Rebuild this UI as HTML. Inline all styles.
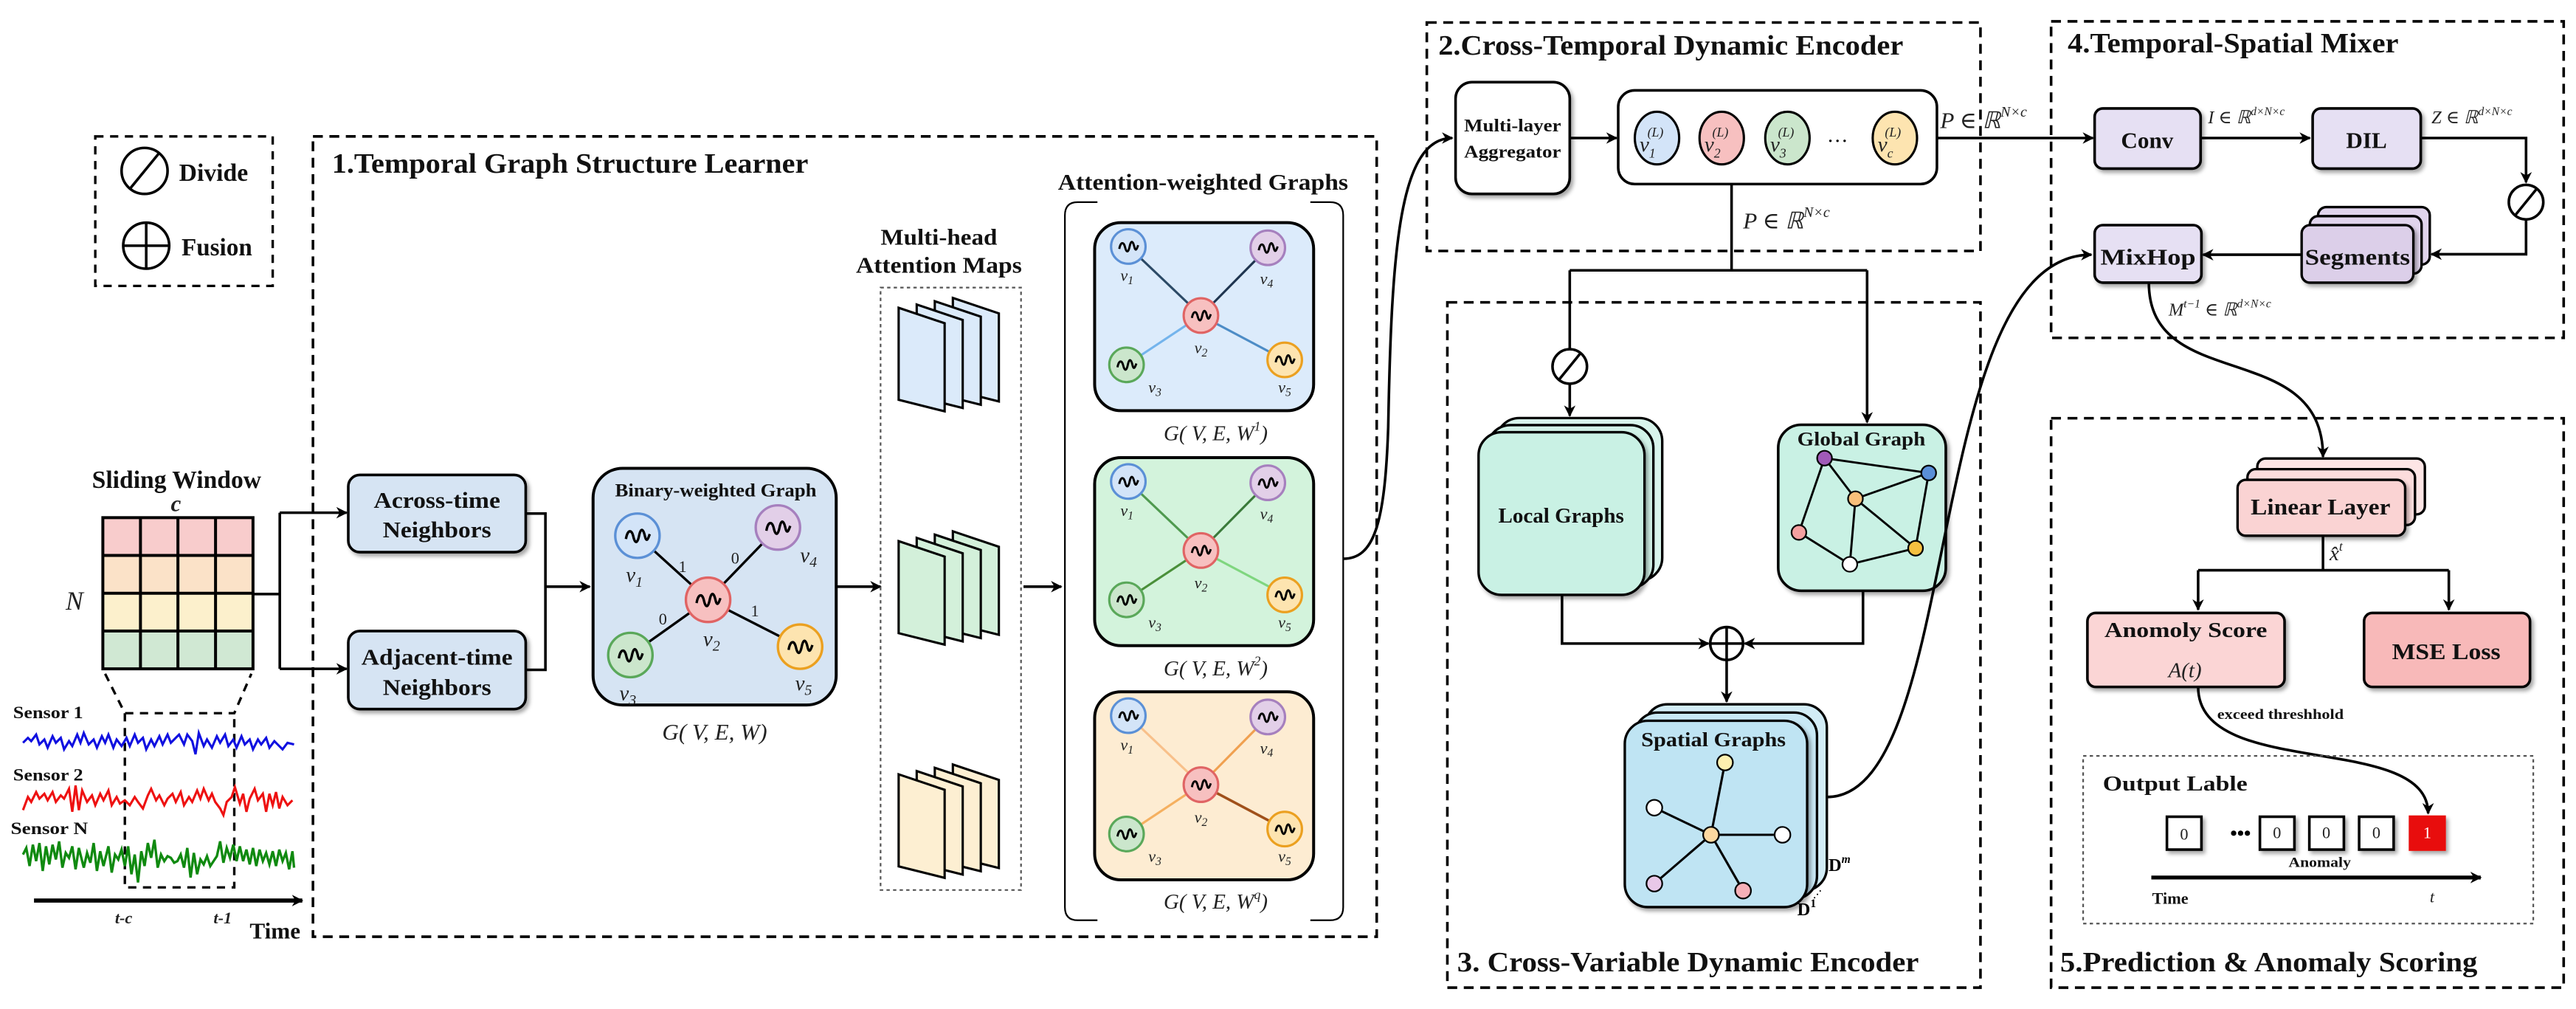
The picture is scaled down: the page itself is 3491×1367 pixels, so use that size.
<!DOCTYPE html>
<html><head><meta charset="utf-8"><style>
html,body{margin:0;padding:0;background:#fff;}
svg{display:block;}
.t{font-family:"Liberation Serif","DejaVu Serif",serif;font-weight:bold;fill:#111;}
.m{font-family:"Liberation Serif","DejaVu Serif",serif;font-style:italic;fill:#222;}
</style></head><body>
<svg width="3491" height="1367" viewBox="0 0 1568 614" preserveAspectRatio="none" xmlns="http://www.w3.org/2000/svg">
<defs>
<marker id="ar" viewBox="0 0 10 10" refX="9" refY="5" markerWidth="7" markerHeight="7" orient="auto" markerUnits="userSpaceOnUse"><path d="M0,0 L10,5 L0,10 L3,5 z" fill="#000"/></marker>
<filter id="sh" x="-20%" y="-20%" width="150%" height="150%"><feDropShadow dx="1.5" dy="1.8" stdDeviation="1.2" flood-opacity="0.35"/></filter>
<g id="w"><path d="M-7,2 C-6,-4 -3.5,-4 -2.5,0.5 S0,5 1,0 S3.5,-4.5 4.5,0 S6.5,2 7.5,-1" fill="none" stroke="#000" stroke-width="1.5"/></g>
<g id="ws"><path d="M-5.5,1.5 C-4.7,-3 -2.8,-3 -2,0.4 S0,4 0.8,0 S2.8,-3.5 3.6,0 S5.2,1.5 6,-0.8" fill="none" stroke="#000" stroke-width="1.3"/></g>
</defs>

<!-- Legend -->
<rect x="58" y="83" width="108" height="91" fill="none" stroke="#000" stroke-width="1.5" stroke-dasharray="5 4"/>
<circle cx="88" cy="104" r="14" fill="#fff" stroke="#000" stroke-width="1.6"/>
<line x1="79" y1="115" x2="97" y2="93" stroke="#000" stroke-width="1.6"/>
<text class="t" x="109" y="110" font-size="15" textLength="42" lengthAdjust="spacingAndGlyphs">Divide</text>
<circle cx="89" cy="149.5" r="14" fill="#fff" stroke="#000" stroke-width="1.6"/>
<line x1="75" y1="149.5" x2="103" y2="149.5" stroke="#000" stroke-width="1.6"/>
<line x1="89" y1="135.5" x2="89" y2="163.5" stroke="#000" stroke-width="1.6"/>
<text class="t" x="110.5" y="155.5" font-size="15" textLength="43" lengthAdjust="spacingAndGlyphs">Fusion</text>

<!-- Box 1 -->
<rect x="190.5" y="83" width="647.5" height="487" fill="none" stroke="#000" stroke-width="1.6" stroke-dasharray="6 4"/>
<text class="t" x="202" y="105" font-size="17" textLength="290" lengthAdjust="spacingAndGlyphs">1.Temporal Graph Structure Learner</text>

<!-- Sliding window -->
<text class="t" x="56" y="297" font-size="15" textLength="103" lengthAdjust="spacingAndGlyphs">Sliding Window</text>
<text class="m" x="104" y="311" font-size="14" font-weight="bold">c</text>
<text class="m" x="40" y="371" font-size="16">N</text>
<rect x="62.6" y="315" width="91.4" height="23" fill="#f8cccc"/>
<rect x="62.6" y="338" width="91.4" height="23" fill="#fbe2c8"/>
<rect x="62.6" y="361" width="91.4" height="23" fill="#fcf0cc"/>
<rect x="62.6" y="384" width="91.4" height="23" fill="#d0e8d3"/>
<g stroke="#000" stroke-width="1.8" fill="none">
<rect x="62.6" y="315" width="91.4" height="92"/>
<line x1="85.5" y1="315" x2="85.5" y2="407"/><line x1="108.3" y1="315" x2="108.3" y2="407"/><line x1="131.2" y1="315" x2="131.2" y2="407"/>
<line x1="62.6" y1="338" x2="154" y2="338"/><line x1="62.6" y1="361" x2="154" y2="361"/><line x1="62.6" y1="384" x2="154" y2="384"/>
</g>
<g stroke="#000" stroke-width="1.5" fill="none" stroke-dasharray="5 4">
<path d="M64,410 L76,434 L142.6,434 L153,410"/>
<path d="M76,434 L76,540 L142.6,540 L142.6,434"/>
</g>
<text class="t" x="8" y="437" font-size="10.5" textLength="42.6" lengthAdjust="spacingAndGlyphs">Sensor 1</text>
<text class="t" x="8" y="475" font-size="10.5" textLength="42.6" lengthAdjust="spacingAndGlyphs">Sensor 2</text>
<text class="t" x="6.5" y="507.5" font-size="10.5" textLength="47" lengthAdjust="spacingAndGlyphs">Sensor N</text>
<polyline fill="none" stroke="#1010e0" stroke-width="1.4" points="14,452 17,449 19,451 22,447 24,453 27,450 29,455 32,448 34,452 37,449 39,456 42,451 44,454 47,447 49,452 51,446 54,453 57,450 59,455 62,448 64,452 66,447 69,455 71,450 74,454 77,449 79,454 82,447 84,452 87,449 89,456 92,450 94,454 97,448 99,453 102,447 104,452 107,449 109,447 112,453 114,447 117,451 119,459 121,446 124,454 126,450 129,455 132,448 134,452 137,447 139,454 142,450 144,455 147,448 149,453 152,450 154,456 157,450 159,453 162,449 164,455 167,451 169,453 172,456 175,452 179,453"/>
<polyline fill="none" stroke="#ee1111" stroke-width="1.4" points="14,493 17,485 19,488 22,482 24,486 27,483 29,487 32,482 34,488 37,484 39,486 42,480 44,494 46,478 48,493 50,481 53,488 56,484 58,490 61,483 63,487 66,481 68,490 71,485 73,489 76,487 79,490 82,485 84,488 87,492 90,484 92,480 95,487 97,484 100,490 102,486 105,483 107,488 110,482 112,490 115,485 117,488 120,481 122,486 124,480 127,487 129,483 131,488 134,492 136,496 138,488 141,485 143,479 146,489 148,483 150,494 152,486 155,480 157,487 160,483 162,494 164,483 166,490 168,482 170,492 172,485 175,490 178,487"/>
<polyline fill="none" stroke="#108a10" stroke-width="1.5" points="14,520 16,516 18,527 20,514 22,524 24,513 26,530 28,515 30,526 32,514 34,523 36,512 38,528 40,519 42,522 44,515 46,529 48,516 51,528 53,519 55,525 57,513 59,530 61,518 63,527 66,515 68,531 70,520 72,523 74,517 76,527 78,515 80,532 82,520 84,537 86,518 88,527 90,513 92,522 94,511 96,528 98,520 100,524 102,521 104,522 106,525 108,524 110,520 112,528 114,516 116,534 118,519 120,532 122,523 124,526 126,521 128,527 130,524 132,521 134,512 136,525 138,516 140,522 142,514 144,524 146,515 148,524 150,517 152,526 154,516 156,527 158,517 160,524 162,519 164,526 166,518 168,527 170,517 172,524 174,519 176,529 178,518 179,528"/>
<line x1="20.7" y1="548" x2="184" y2="548" stroke="#000" stroke-width="2.5" marker-end="url(#ar)"/>
<text class="m" x="70" y="562" font-size="10" font-weight="bold">t-c</text>
<text class="m" x="130" y="562" font-size="10" font-weight="bold">t-1</text>
<text class="t" x="152" y="571" font-size="14">Time</text>

<!-- connectors from grid -->
<g stroke="#000" stroke-width="1.6" fill="none">
<path d="M154,361.5 L170.3,361.5"/>
<path d="M170.3,312 L170.3,407"/>
<path d="M170.3,312 L211,312" marker-end="url(#ar)"/>
<path d="M170.3,407 L211,407" marker-end="url(#ar)"/>
<path d="M320,312.5 L332,312.5 L332,407.6 L320,407.6"/>
<path d="M332,357 L359,357" marker-end="url(#ar)"/>
</g>
<rect x="212" y="289" width="108" height="47" rx="7" fill="#d6e4f3" stroke="#000" stroke-width="1.6" filter="url(#sh)"/>
<text class="t" x="227.5" y="309" font-size="14" textLength="77" lengthAdjust="spacingAndGlyphs">Across-time</text>
<text class="t" x="233" y="327" font-size="14" textLength="66" lengthAdjust="spacingAndGlyphs">Neighbors</text>
<rect x="212" y="384" width="108" height="47.5" rx="7" fill="#d6e4f3" stroke="#000" stroke-width="1.6" filter="url(#sh)"/>
<text class="t" x="220" y="404.5" font-size="14" textLength="92" lengthAdjust="spacingAndGlyphs">Adjacent-time</text>
<text class="t" x="233" y="423" font-size="14" textLength="66" lengthAdjust="spacingAndGlyphs">Neighbors</text>

<!-- Binary graph -->
<rect x="361" y="285" width="148" height="144" rx="18" fill="#d6e4f3" stroke="#000" stroke-width="1.8"/>
<text class="t" x="374.4" y="302" font-size="11.5" textLength="122.6" lengthAdjust="spacingAndGlyphs">Binary-weighted Graph</text>
<g stroke="#000" stroke-width="1.5">
<line x1="388" y1="326" x2="431" y2="365"/><line x1="473.5" y1="321" x2="431" y2="365"/>
<line x1="383.7" y1="398.6" x2="431" y2="365"/><line x1="487" y1="393.5" x2="431" y2="365"/>
</g>
<circle cx="388" cy="326" r="13.5" fill="#d3e4f8" stroke="#5b90d6" stroke-width="1.5"/><use href="#w" x="388" y="326"/>
<circle cx="473.5" cy="321" r="13.5" fill="#e2cfe8" stroke="#a680be" stroke-width="1.5"/><use href="#w" x="473.5" y="321"/>
<circle cx="431" cy="365" r="13.5" fill="#f7c0c0" stroke="#e06464" stroke-width="1.5"/><use href="#w" x="431" y="365"/>
<circle cx="383.7" cy="398.6" r="13.5" fill="#cbe6cc" stroke="#5aa85a" stroke-width="1.5"/><use href="#w" x="383.7" y="398.6"/>
<circle cx="487" cy="393.5" r="13.5" fill="#fde4b0" stroke="#eba020" stroke-width="1.5"/><use href="#w" x="487" y="393.5"/>
<g class="m" font-size="13">
<text x="381" y="354">v<tspan font-size="9" dy="3">1</tspan></text>
<text x="487" y="342">v<tspan font-size="9" dy="3">4</tspan></text>
<text x="428" y="393">v<tspan font-size="9" dy="3">2</tspan></text>
<text x="377" y="426">v<tspan font-size="9" dy="3">3</tspan></text>
<text x="484" y="420">v<tspan font-size="9" dy="3">5</tspan></text>
</g>
<g font-family="Liberation Serif,serif" font-size="10" fill="#222">
<text x="413" y="348">1</text><text x="445" y="343">0</text><text x="401" y="380">0</text><text x="457" y="375">1</text>
</g>
<text class="m" x="435" y="450" font-size="14" text-anchor="middle">G( V, E, W)</text>
<line x1="509" y1="357" x2="536" y2="357" stroke="#000" stroke-width="1.6" marker-end="url(#ar)"/>

<!-- Multi-head -->
<text class="t" x="536" y="149" font-size="14" textLength="71" lengthAdjust="spacingAndGlyphs">Multi-head</text>
<text class="t" x="521" y="166" font-size="14" textLength="101" lengthAdjust="spacingAndGlyphs">Attention Maps</text>
<rect x="536" y="175" width="85.5" height="366.6" fill="none" stroke="#555" stroke-width="1" stroke-dasharray="2 2"/>
<g stroke="#000" stroke-width="1.4">
<g fill="#dbeafa">
<polygon points="580,181.3 608,190.7 608,244.3 580,237.3"/><polygon points="569,183.3 597,192.7 597,246.3 569,239.3"/><polygon points="558,185.3 586,194.7 586,248.3 558,241.3"/><polygon points="547,187.3 575,196.7 575,250.3 547,243.3"/>
</g>
<g fill="#d3f0da">
<polygon points="580,323.3 608,332.7 608,386.3 580,379.3"/><polygon points="569,325.3 597,334.7 597,388.3 569,381.3"/><polygon points="558,327.3 586,336.7 586,390.3 558,383.3"/><polygon points="547,329.3 575,338.7 575,392.3 547,385.3"/>
</g>
<g fill="#fdefd2">
<polygon points="580,465.2 608,474.6 608,528.2 580,521.2"/><polygon points="569,467.2 597,476.6 597,530.2 569,523.2"/><polygon points="558,469.2 586,478.6 586,532.2 558,525.2"/><polygon points="547,471.2 575,480.6 575,534.2 547,527.2"/>
</g>
</g>
<line x1="623" y1="357" x2="646" y2="357" stroke="#000" stroke-width="1.6" marker-end="url(#ar)"/>

<!-- Attention-weighted -->
<text class="t" x="644" y="115.5" font-size="14" textLength="176.6" lengthAdjust="spacingAndGlyphs">Attention-weighted Graphs</text>
<path d="M668,123 L656,123 Q648.2,123 648.2,131 L648.2,552 Q648.2,560 656,560 L668,560" fill="none" stroke="#000" stroke-width="1"/>
<path d="M797.6,123 L809.6,123 Q817.6,123 817.6,131 L817.6,552 Q817.6,560 809.6,560 L797.6,560" fill="none" stroke="#000" stroke-width="1"/>

<g id="ag1">
<rect x="666.3" y="135.5" width="133.3" height="114.4" rx="16" fill="#dcebfb" stroke="#000" stroke-width="1.8"/>
<line x1="686.8" y1="150" x2="731" y2="192" stroke="#2c4a66" stroke-width="1.4"/>
<line x1="771.7" y1="150.8" x2="731" y2="192" stroke="#1f3550" stroke-width="1.4"/>
<line x1="685.7" y1="222" x2="731" y2="192" stroke="#74b4ec" stroke-width="1.4"/>
<line x1="782" y1="219" x2="731" y2="192" stroke="#4d8cc6" stroke-width="1.4"/>
</g>
<g transform="translate(0,143)">
<rect x="666.3" y="135.5" width="133.3" height="114.4" rx="16" fill="#d3f3dc" stroke="#000" stroke-width="1.8"/>
<line x1="686.8" y1="150" x2="731" y2="192" stroke="#4f9a4f" stroke-width="1.4"/>
<line x1="771.7" y1="150.8" x2="731" y2="192" stroke="#3a7a3a" stroke-width="1.4"/>
<line x1="685.7" y1="222" x2="731" y2="192" stroke="#4a8f3a" stroke-width="1.4"/>
<line x1="782" y1="219" x2="731" y2="192" stroke="#7fd67f" stroke-width="1.4"/>
</g>
<g transform="translate(0,285.5)">
<rect x="666.3" y="135.5" width="133.3" height="114.4" rx="16" fill="#fdecd2" stroke="#000" stroke-width="1.8"/>
<line x1="686.8" y1="150" x2="731" y2="192" stroke="#f8c08a" stroke-width="1.4"/>
<line x1="771.7" y1="150.8" x2="731" y2="192" stroke="#f0a050" stroke-width="1.4"/>
<line x1="685.7" y1="222" x2="731" y2="192" stroke="#f5b060" stroke-width="1.4"/>
<line x1="782" y1="219" x2="731" y2="192" stroke="#a0501a" stroke-width="1.6"/>
</g>
<g id="agn">
<circle cx="686.8" cy="150" r="10.5" fill="#d3e4f8" stroke="#5b90d6" stroke-width="1.4"/><use href="#ws" x="686.8" y="150"/>
<circle cx="771.7" cy="150.8" r="10.5" fill="#e2cfe8" stroke="#a680be" stroke-width="1.4"/><use href="#ws" x="771.7" y="150.8"/>
<circle cx="731" cy="192" r="10.5" fill="#f7c0c0" stroke="#e06464" stroke-width="1.4"/><use href="#ws" x="731" y="192"/>
<circle cx="685.7" cy="222" r="10.5" fill="#cbe6cc" stroke="#5aa85a" stroke-width="1.4"/><use href="#ws" x="685.7" y="222"/>
<circle cx="782" cy="219" r="10.5" fill="#fde4b0" stroke="#eba020" stroke-width="1.4"/><use href="#ws" x="782" y="219"/>
<g class="m" font-size="10">
<text x="682" y="171">v<tspan font-size="7" dy="2">1</tspan></text>
<text x="767" y="173">v<tspan font-size="7" dy="2">4</tspan></text>
<text x="727" y="215">v<tspan font-size="7" dy="2">2</tspan></text>
<text x="699" y="239">v<tspan font-size="7" dy="2">3</tspan></text>
<text x="778" y="239">v<tspan font-size="7" dy="2">5</tspan></text>
</g>
</g>
<use href="#agn" y="143"/>
<use href="#agn" y="285.5"/>
<text class="m" x="740" y="268" font-size="13" text-anchor="middle">G( V, E, W<tspan font-size="8" dy="-6">1</tspan><tspan dy="6">)</tspan></text>
<text class="m" x="740" y="411" font-size="13" text-anchor="middle">G( V, E, W<tspan font-size="8" dy="-6">2</tspan><tspan dy="6">)</tspan></text>
<text class="m" x="740" y="553" font-size="13" text-anchor="middle">G( V, E, W<tspan font-size="8" dy="-6">q</tspan><tspan dy="6">)</tspan></text>

<!-- curve to aggregator -->
<path d="M817.6,340 C836,340 843,320 845,260 C847,150 852,84 884,84" fill="none" stroke="#000" stroke-width="1.6" marker-end="url(#ar)"/>

<!-- Box 2 -->
<rect x="868.5" y="13.7" width="337" height="139" fill="none" stroke="#000" stroke-width="1.6" stroke-dasharray="6 4"/>
<text class="t" x="875.5" y="33.3" font-size="17" textLength="283" lengthAdjust="spacingAndGlyphs">2.Cross-Temporal Dynamic Encoder</text>
<rect x="886" y="50" width="69.5" height="68" rx="10" fill="#fff" stroke="#000" stroke-width="1.6" filter="url(#sh)"/>
<text class="t" x="920.7" y="80" font-size="11" text-anchor="middle" textLength="59" lengthAdjust="spacingAndGlyphs">Multi-layer</text>
<text class="t" x="920.7" y="96" font-size="11" text-anchor="middle" textLength="59" lengthAdjust="spacingAndGlyphs">Aggregator</text>
<line x1="955.5" y1="84" x2="984" y2="84" stroke="#000" stroke-width="1.6" marker-end="url(#ar)"/>
<rect x="985" y="55" width="194" height="57" rx="10" fill="#fff" stroke="#000" stroke-width="1.6"/>
<ellipse cx="1008.6" cy="84" rx="13.5" ry="16" fill="#d3e4f8" stroke="#000" stroke-width="1.4"/>
<ellipse cx="1048" cy="84" rx="13.5" ry="16" fill="#f7c0c0" stroke="#000" stroke-width="1.4"/>
<ellipse cx="1088" cy="84" rx="13.5" ry="16" fill="#cbe6cc" stroke="#000" stroke-width="1.4"/>
<ellipse cx="1153.4" cy="84" rx="13.5" ry="16" fill="#fde4b0" stroke="#000" stroke-width="1.4"/>
<g class="m" font-size="13">
<text x="998" y="92">v<tspan font-size="8" dy="4">1</tspan><tspan font-size="8" dx="-5" dy="-13">(L)</tspan></text>
<text x="1037.5" y="92">v<tspan font-size="8" dy="4">2</tspan><tspan font-size="8" dx="-5" dy="-13">(L)</tspan></text>
<text x="1077.5" y="92">v<tspan font-size="8" dy="4">3</tspan><tspan font-size="8" dx="-5" dy="-13">(L)</tspan></text>
<text x="1143" y="92">v<tspan font-size="8" dy="4">c</tspan><tspan font-size="8" dx="-5" dy="-13">(L)</tspan></text>
</g>
<text x="1112" y="90" font-size="13" font-family="Liberation Serif,serif">···</text>
<text class="m" x="1181" y="78" font-size="14" fill="#555">P ∈ ℝ<tspan font-size="9" dy="-7">N×c</tspan></text>
<line x1="1179" y1="84" x2="1274" y2="84" stroke="#000" stroke-width="1.6" marker-end="url(#ar)"/>
<!-- split -->
<g stroke="#000" stroke-width="1.6" fill="none">
<path d="M1054,112 L1054,164.5"/>
<path d="M955.5,164.5 L1136.5,164.5"/>
<path d="M955.5,164.5 L955.5,212"/>
<path d="M955.5,234 L955.5,253" marker-end="url(#ar)"/>
<path d="M1136.5,164.5 L1136.5,257" marker-end="url(#ar)"/>
</g>
<text class="m" x="1061" y="139" font-size="14" fill="#555">P ∈ ℝ<tspan font-size="9" dy="-7">N×c</tspan></text>
<circle cx="955.5" cy="223" r="10.5" fill="#fff" stroke="#000" stroke-width="1.6"/>
<line x1="949" y1="231" x2="962" y2="215" stroke="#000" stroke-width="1.6"/>

<!-- Box 3 -->
<rect x="881" y="184" width="324.5" height="417" fill="none" stroke="#000" stroke-width="1.6" stroke-dasharray="6 4"/>
<text class="t" x="887" y="591" font-size="17" textLength="281" lengthAdjust="spacingAndGlyphs">3. Cross-Variable Dynamic Encoder</text>
<g stroke="#000" stroke-width="1.5" fill="#c9f1e4">
<rect x="910.8" y="254.4" width="101" height="99" rx="14" fill="#d8f5ec"/>
<rect x="905.4" y="258.7" width="101" height="99" rx="14" fill="#d1f3e8"/>
<rect x="900" y="263" width="101" height="99" rx="14" filter="url(#sh)"/>
</g>
<text class="t" x="912" y="318" font-size="13" textLength="76.5" lengthAdjust="spacingAndGlyphs">Local Graphs</text>
<rect x="1082.4" y="258.5" width="102" height="101" rx="14" fill="#c9f1e4" stroke="#000" stroke-width="1.6" filter="url(#sh)"/>
<text class="t" x="1094" y="271" font-size="12" textLength="78" lengthAdjust="spacingAndGlyphs">Global Graph</text>
<g stroke="#000" stroke-width="1.3">
<line x1="1110.6" y1="278.8" x2="1174" y2="287.8"/><line x1="1110.6" y1="278.8" x2="1129.4" y2="303.5"/>
<line x1="1110.6" y1="278.8" x2="1095" y2="324"/><line x1="1129.4" y1="303.5" x2="1174" y2="287.8"/>
<line x1="1129.4" y1="303.5" x2="1166" y2="333.6"/><line x1="1129.4" y1="303.5" x2="1126" y2="343.4"/>
<line x1="1095" y1="324" x2="1126" y2="343.4"/><line x1="1126" y1="343.4" x2="1166" y2="333.6"/>
<line x1="1174" y1="287.8" x2="1166" y2="333.6"/>
</g>
<g stroke="#000" stroke-width="1">
<circle cx="1110.6" cy="278.8" r="4.5" fill="#a05ab8"/><circle cx="1174" cy="287.8" r="4.5" fill="#5a8fd8"/>
<circle cx="1129.4" cy="303.5" r="4.5" fill="#f9c07a"/><circle cx="1095" cy="324" r="4.5" fill="#f5a0a0"/>
<circle cx="1166" cy="333.6" r="4.5" fill="#f5c040"/><circle cx="1126" cy="343.4" r="4.5" fill="#fff"/>
</g>
<g stroke="#000" stroke-width="1.6" fill="none">
<path d="M950.8,362 L950.8,391.6 L1040,391.6" marker-end="url(#ar)"/>
<path d="M1134,359.5 L1134,391.6 L1062,391.6" marker-end="url(#ar)"/>
<path d="M1051,402 L1051,427" marker-end="url(#ar)"/>
</g>
<circle cx="1051" cy="391.6" r="10" fill="#fff" stroke="#000" stroke-width="1.6"/>
<line x1="1041" y1="391.6" x2="1061" y2="391.6" stroke="#000" stroke-width="1.6"/>
<line x1="1051" y1="381.6" x2="1051" y2="401.6" stroke="#000" stroke-width="1.6"/>
<g stroke="#000" stroke-width="1.5">
<rect x="1001" y="428.6" width="111" height="113.4" rx="14" fill="#d2ecf6"/>
<rect x="995" y="433.6" width="111" height="113.4" rx="14" fill="#c8e8f5"/>
<rect x="989" y="438.6" width="111" height="113.4" rx="14" fill="#bfe4f3" filter="url(#sh)"/>
</g>
<text class="t" x="999" y="454" font-size="12.5" textLength="88" lengthAdjust="spacingAndGlyphs">Spatial  Graphs</text>
<g stroke="#000" stroke-width="1.4">
<line x1="1041.5" y1="508" x2="1050" y2="464"/><line x1="1041.5" y1="508" x2="1007" y2="491.5"/>
<line x1="1041.5" y1="508" x2="1085" y2="508"/><line x1="1041.5" y1="508" x2="1007" y2="537.7"/>
<line x1="1041.5" y1="508" x2="1061" y2="542"/>
</g>
<g stroke="#000" stroke-width="1">
<circle cx="1041.5" cy="508" r="4.8" fill="#fcd8a0"/><circle cx="1050" cy="464" r="4.8" fill="#fdf0b0"/>
<circle cx="1007" cy="491.5" r="4.8" fill="#fff"/><circle cx="1085" cy="508" r="4.8" fill="#fff"/>
<circle cx="1007" cy="537.7" r="4.8" fill="#e8c8e8"/><circle cx="1061" cy="542" r="4.8" fill="#f5b0b8"/>
</g>
<text x="1113" y="530" font-size="11" font-family="Liberation Serif,serif" font-weight="bold">D<tspan font-size="7" font-style="italic" dy="-5">m</tspan></text>
<text x="1094" y="557" font-size="11" font-family="Liberation Serif,serif" font-weight="bold">D<tspan font-size="7" dy="-5">1</tspan></text>
<text x="1102" y="547" font-size="8" font-family="Liberation Serif,serif" transform="rotate(-50 1106 544)">···</text>
<path d="M1112,485 C1195,485 1170,155 1273,155" fill="none" stroke="#000" stroke-width="1.6" marker-end="url(#ar)"/>

<!-- Box 4 -->
<rect x="1248.5" y="13" width="312" height="192.6" fill="none" stroke="#000" stroke-width="1.6" stroke-dasharray="6 4"/>
<text class="t" x="1258.6" y="32" font-size="17" textLength="201.4" lengthAdjust="spacingAndGlyphs">4.Temporal-Spatial Mixer</text>
<rect x="1275" y="66" width="64.5" height="36.6" rx="5" fill="#e6e0f3" stroke="#000" stroke-width="1.6" filter="url(#sh)"/>
<text class="t" x="1307" y="90" font-size="14" text-anchor="middle">Conv</text>
<line x1="1339.5" y1="84" x2="1406" y2="84" stroke="#000" stroke-width="1.6" marker-end="url(#ar)"/>
<text class="m" x="1344" y="75" font-size="11" fill="#444">I ∈ ℝ<tspan font-size="7" dy="-5">d×N×c</tspan></text>
<rect x="1407.7" y="66" width="65.8" height="36.6" rx="5" fill="#e6e0f3" stroke="#000" stroke-width="1.6" filter="url(#sh)"/>
<text class="t" x="1440.5" y="90" font-size="14" text-anchor="middle">DIL</text>
<text class="m" x="1480" y="75" font-size="11" fill="#444">Z ∈ ℝ<tspan font-size="7" dy="-5">d×N×c</tspan></text>
<g stroke="#000" stroke-width="1.6" fill="none">
<path d="M1473.5,84 L1537.6,84 L1537.6,111" marker-end="url(#ar)"/>
<path d="M1537.6,134 L1537.6,154.7 L1480,154.7" marker-end="url(#ar)"/>
</g>
<circle cx="1537.6" cy="123" r="10.5" fill="#fff" stroke="#000" stroke-width="1.6"/>
<line x1="1531" y1="131" x2="1544" y2="115" stroke="#000" stroke-width="1.6"/>
<g stroke="#000" stroke-width="1.5">
<rect x="1411" y="126" width="68" height="35" rx="5" fill="#e0d4ec"/>
<rect x="1406" y="131.5" width="68" height="35" rx="5" fill="#e0d4ec"/>
<rect x="1401" y="137" width="68" height="35" rx="5" fill="#dccfe9" filter="url(#sh)"/>
</g>
<text class="t" x="1435" y="161" font-size="14" text-anchor="middle" textLength="64" lengthAdjust="spacingAndGlyphs">Segments</text>
<line x1="1401" y1="155" x2="1341" y2="155" stroke="#000" stroke-width="1.6" marker-end="url(#ar)"/>
<rect x="1275" y="137" width="65" height="35" rx="5" fill="#e6e0f3" stroke="#000" stroke-width="1.6" filter="url(#sh)"/>
<text class="t" x="1307.5" y="161" font-size="14" text-anchor="middle" textLength="58" lengthAdjust="spacingAndGlyphs">MixHop</text>
<text class="m" x="1320" y="192" font-size="11" fill="#444">M<tspan font-size="7" dy="-5">t−1</tspan><tspan dy="5"> ∈ ℝ</tspan><tspan font-size="7" dy="-5">d×N×c</tspan></text>
<path d="M1308,172 C1308,240 1414,205 1414,278" fill="none" stroke="#000" stroke-width="1.6" marker-end="url(#ar)"/>

<!-- Box 5 -->
<rect x="1248.5" y="254.5" width="312" height="346.5" fill="none" stroke="#000" stroke-width="1.6" stroke-dasharray="6 4"/>
<text class="t" x="1254" y="591" font-size="17" textLength="254" lengthAdjust="spacingAndGlyphs">5.Prediction &amp; Anomaly Scoring</text>
<g stroke="#000" stroke-width="1.5">
<rect x="1374" y="279" width="102" height="34" rx="5" fill="#fde5e5"/>
<rect x="1368" y="285.5" width="102" height="34" rx="5" fill="#fcdcdc"/>
<rect x="1362" y="292" width="102" height="34" rx="5" fill="#fad3d3" filter="url(#sh)"/>
</g>
<text class="t" x="1370" y="313" font-size="14" textLength="85" lengthAdjust="spacingAndGlyphs">Linear Layer</text>
<g stroke="#000" stroke-width="1.6" fill="none">
<path d="M1414,326 L1414,347"/>
<path d="M1338,347 L1490.6,347"/>
<path d="M1338,347 L1338,371" marker-end="url(#ar)"/>
<path d="M1490.6,347 L1490.6,371" marker-end="url(#ar)"/>
</g>
<text class="m" x="1418" y="341" font-size="13">x̂<tspan font-size="8" dy="-6">t</tspan></text>
<rect x="1270.6" y="373" width="120" height="45" rx="5" fill="#fbd5d5" stroke="#000" stroke-width="1.6" filter="url(#sh)"/>
<text class="t" x="1281" y="387.7" font-size="13" textLength="99" lengthAdjust="spacingAndGlyphs">Anomoly Score</text>
<text class="m" x="1330" y="412" font-size="13" text-anchor="middle">A(t)</text>
<rect x="1439" y="373" width="101" height="45" rx="5" fill="#f8b9b9" stroke="#000" stroke-width="1.6" filter="url(#sh)"/>
<text class="t" x="1456" y="401" font-size="14" textLength="66" lengthAdjust="spacingAndGlyphs">MSE Loss</text>
<path d="M1338,418 C1338,475 1478,445 1478,495" fill="none" stroke="#000" stroke-width="1.6" marker-end="url(#ar)"/>
<text class="t" x="1349.6" y="437.4" font-size="8.5" textLength="77" lengthAdjust="spacingAndGlyphs">exceed threshhold</text>
<rect x="1268" y="460" width="274" height="102" fill="none" stroke="#555" stroke-width="1" stroke-dasharray="2 2"/>
<text class="t" x="1280" y="481" font-size="13" textLength="88" lengthAdjust="spacingAndGlyphs">Output Lable</text>
<g stroke="#000" stroke-width="1.6" fill="#fff" filter="url(#sh)">
<rect x="1319" y="497" width="21" height="20"/>
<rect x="1375.6" y="497" width="21" height="20"/>
<rect x="1405.7" y="497" width="21" height="20"/>
<rect x="1436" y="497" width="21" height="20"/>
<rect x="1467" y="497" width="21" height="20" fill="#e8100a" stroke="#e8100a"/>
</g>
<g font-family="Liberation Serif,serif" font-size="10" text-anchor="middle" fill="#222">
<text x="1329.5" y="511">0</text><text x="1386" y="510">0</text><text x="1416" y="510">0</text><text x="1446.5" y="510">0</text>
<text x="1477.5" y="510" fill="#fff">1</text>
</g>
<text x="1357.5" y="511" font-size="12" font-family="Liberation Serif,serif" font-weight="bold">•••</text>
<text class="t" x="1393" y="527.5" font-size="8.5" textLength="38" lengthAdjust="spacingAndGlyphs">Anomaly</text>
<line x1="1309.5" y1="534" x2="1510" y2="534" stroke="#000" stroke-width="2.4" marker-end="url(#ar)"/>
<text class="t" x="1310" y="550" font-size="10">Time</text>
<text class="m" x="1479" y="549" font-size="10">t</text>
</svg>
</body></html>
